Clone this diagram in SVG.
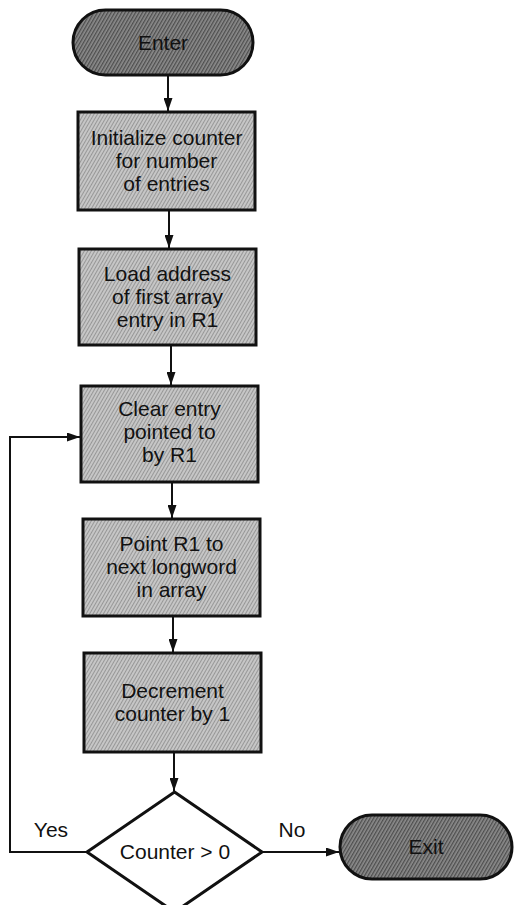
<svg xmlns="http://www.w3.org/2000/svg" width="514" height="905" viewBox="0 0 514 905">
  <style>
    .box { fill: url(#screenLight); stroke: #111; stroke-width: 3; }
    .term { fill: url(#screenDark); stroke: #111; stroke-width: 3; }
    .dec { fill: #fff; stroke: #111; stroke-width: 3; }
    .lbl { font-family: "Liberation Sans", Arial, Helvetica, sans-serif; font-size: 21px; fill: #111; text-anchor: middle; }
    .edge { fill: none; stroke: #111; stroke-width: 2; }
  </style>
  <defs>
    <!-- halftone screens used for process boxes and terminals -->
    <pattern id="screenLight" width="3" height="3" patternUnits="userSpaceOnUse" patternTransform="rotate(-60)">
      <rect width="3" height="3" fill="#c6c6c6"/>
      <rect width="3" height="1" fill="#979797"/>
    </pattern>
    <pattern id="screenDark" width="3" height="3" patternUnits="userSpaceOnUse" patternTransform="rotate(-60)">
      <rect width="3" height="3" fill="#8c8c8c"/>
      <rect width="3" height="1.3" fill="#4e4e4e"/>
    </pattern>
    <marker id="arrow" markerWidth="13" markerHeight="9" refX="13" refY="4.5" orient="auto" markerUnits="userSpaceOnUse">
      <path d="M0,0 L13,4.5 L0,9 Z" fill="#111"/>
    </marker>
  </defs>

  <g id="connectors">
    <line class="edge" x1="168" y1="76" x2="168" y2="111" marker-end="url(#arrow)"/>
    <line class="edge" x1="169" y1="211" x2="169" y2="248" marker-end="url(#arrow)"/>
    <line class="edge" x1="171" y1="346" x2="171" y2="385" marker-end="url(#arrow)"/>
    <line class="edge" x1="172" y1="483" x2="172" y2="518" marker-end="url(#arrow)"/>
    <line class="edge" x1="173" y1="617" x2="173" y2="652" marker-end="url(#arrow)"/>
    <line class="edge" x1="174" y1="753" x2="174" y2="791" marker-end="url(#arrow)"/>
    <polyline class="edge" points="87,852 10,852 10,437 80,437" marker-end="url(#arrow)"/>
    <line class="edge" x1="262" y1="852" x2="339" y2="852" marker-end="url(#arrow)"/>
    <text class="lbl" x="51" y="837">Yes</text>
    <text class="lbl" x="292" y="837">No</text>
  </g>

  <g id="enter">
    <rect class="term" x="73" y="10" width="180" height="65" rx="32.5"/>
    <text class="lbl" x="163" y="50">Enter</text>
  </g>

  <g id="init-counter">
    <rect class="box" x="78" y="112" width="177" height="98"/>
    <text class="lbl" x="166.5" y="145">Initialize counter</text>
    <text class="lbl" x="166.5" y="168">for number</text>
    <text class="lbl" x="166.5" y="191">of entries</text>
  </g>

  <g id="load-address">
    <rect class="box" x="79" y="249" width="177" height="96"/>
    <text class="lbl" x="167.5" y="281">Load address</text>
    <text class="lbl" x="167.5" y="304">of first array</text>
    <text class="lbl" x="167.5" y="327">entry in R1</text>
  </g>

  <g id="clear-entry">
    <rect class="box" x="81" y="386" width="177" height="96"/>
    <text class="lbl" x="169.5" y="416">Clear entry</text>
    <text class="lbl" x="169.5" y="439">pointed to</text>
    <text class="lbl" x="169.5" y="462">by R1</text>
  </g>

  <g id="point-next">
    <rect class="box" x="83" y="519" width="177" height="97"/>
    <text class="lbl" x="171.5" y="551">Point R1 to</text>
    <text class="lbl" x="171.5" y="574">next longword</text>
    <text class="lbl" x="171.5" y="597">in array</text>
  </g>

  <g id="decrement">
    <rect class="box" x="84" y="653" width="177" height="99"/>
    <text class="lbl" x="172.5" y="698">Decrement</text>
    <text class="lbl" x="172.5" y="721">counter by 1</text>
  </g>

  <g id="test-counter">
    <polygon class="dec" points="174.5,792 262,852 174.5,912 87,852"/>
    <text class="lbl" x="175" y="859">Counter &gt; 0</text>
  </g>

  <g id="exit">
    <rect class="term" x="340" y="815" width="172" height="64" rx="32"/>
    <text class="lbl" x="426" y="854">Exit</text>
  </g>
</svg>
